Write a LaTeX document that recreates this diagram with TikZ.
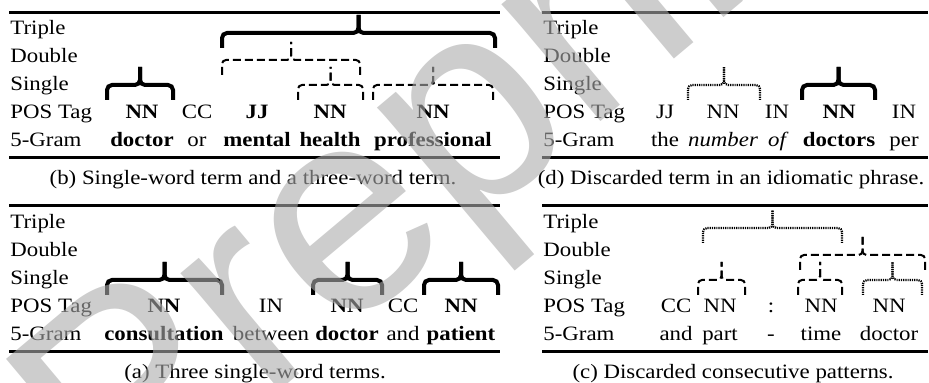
\documentclass[tikz,border=0pt]{standalone}
\usepackage{fontspec}
\setmainfont{Liberation Serif}[FakeStretch=1.12,
  BoldFeatures={FakeStretch=1.12},ItalicFeatures={FakeStretch=1.12}]
\newfontfamily\wmfont{Liberation Sans}

% one brace: style, left x, right x, foot y
\newcommand{\termbrace}[4]{%
  \draw[#1] (#2,#4) -- (#2,#4-15) -- ({(#2+#3)/2},#4-15) -- ({(#2+#3)/2},#4-33);
  \draw[#1] (#3,#4) -- (#3,#4-15) -- ({(#2+#3)/2},#4-15) -- ({(#2+#3)/2},#4-33);
}

\begin{document}
\begin{tikzpicture}[x=0.5pt,y=-0.5pt,
    every node/.style={inner sep=0pt,anchor=base,font=\fontsize{10.2}{12}\selectfont},
    rowlabel/.style={anchor=base west},
    tablerule/.style={line width=1.5pt},
    solidbrace/.style={line width=2pt,rounded corners=2.5pt},
    dashbrace/.style={line width=1pt,dash pattern=on 4pt off 2pt,rounded corners=2pt},
    dotbrace/.style={line width=1.1pt,dash pattern=on 0.6pt off 0.5pt,rounded corners=2pt},
    wmark/.style={anchor=base west,rotate=40,font=\wmfont\fontsize{145}{145}\selectfont,
      text=black!33,text opacity=0.6}]
  \useasboundingbox (0,0) rectangle (929,383);

  % Row labels
  \foreach \lab [count=\i] in {Triple,Double,Single,POS Tag,5-Gram} {
    \node[rowlabel] (b-row\i) at (10,7+28*\i) {\lab};
    \node[rowlabel] (d-row\i) at (543,7+28*\i) {\lab};
    \node[rowlabel] (a-row\i) at (10,201+28*\i) {\lab};
    \node[rowlabel] (c-row\i) at (543,201+28*\i) {\lab};
  }

  % Rules
  \draw[tablerule] (9,13) -- (500,13);
  \draw[tablerule] (9,158) -- (500,158);
  \draw[tablerule] (542,13) -- (928,13);
  \draw[tablerule] (542,158) -- (928,158);
  \draw[tablerule] (9,206) -- (500,206);
  \draw[tablerule] (9,352) -- (500,352);
  \draw[tablerule] (542,206) -- (928,206);
  \draw[tablerule] (542,352) -- (928,352);

  % (b) tags and words
  \node (b-t1) at (142,119) {\bfseries NN};
  \node (b-t2) at (197,119) {CC};
  \node (b-t3) at (257,119) {\bfseries JJ};
  \node (b-t4) at (330,119) {\bfseries NN};
  \node (b-t5) at (433,119) {\bfseries NN};
  \node (b-w1) at (142,147) {\bfseries doctor};
  \node (b-w2) at (197,147) {or};
  \node (b-w3) at (257,147) {\bfseries mental};
  \node (b-w4) at (330,147) {\bfseries health};
  \node (b-w5) at (433,147) {\bfseries professional};
  \termbrace{solidbrace}{107}{173}{100}
  \termbrace{dashbrace}{298}{363}{100}
  \termbrace{dashbrace}{373}{493}{100}
  \termbrace{dashbrace}{222}{360}{75}
  \termbrace{solidbrace}{222}{495}{48}
  \node (b-cap) at (253,185) {(b) Single-word term and a three-word term.};

  % (d) tags and words
  \node (d-t1) at (665,119) {JJ};
  \node (d-t2) at (723,119) {NN};
  \node (d-t3) at (777,119) {IN};
  \node (d-t4) at (839,119) {\bfseries NN};
  \node (d-t5) at (904,119) {IN};
  \node (d-w1) at (665,147) {the};
  \node (d-w2) at (723,147) {\itshape number};
  \node (d-w3) at (777,147) {\itshape of};
  \node (d-w4) at (839,147) {\bfseries doctors};
  \node (d-w5) at (904,147) {per};
  \termbrace{dotbrace}{688}{760}{100}
  \termbrace{solidbrace}{802}{875}{100}
  \node (d-cap) at (731,185) {(d) Discarded term in an idiomatic phrase.};

  % (a) tags and words
  \node (a-t1) at (164,313) {\bfseries NN};
  \node (a-t2) at (271,313) {IN};
  \node (a-t3) at (347,313) {\bfseries NN};
  \node (a-t4) at (403,313) {CC};
  \node (a-t5) at (461,313) {\bfseries NN};
  \node (a-w1) at (164,341) {\bfseries consultation};
  \node (a-w2) at (271,341) {between};
  \node (a-w3) at (347,341) {\bfseries doctor};
  \node (a-w4) at (403,341) {and};
  \node (a-w5) at (461,341) {\bfseries patient};
  \termbrace{solidbrace}{107}{222}{295}
  \termbrace{solidbrace}{313}{382}{295}
  \termbrace{solidbrace}{424}{498}{295}
  \node (a-cap) at (255,379) {(a) Three single-word terms.};

  % (c) tags and words
  \node (c-t1) at (676,313) {CC};
  \node (c-t2) at (720,313) {NN};
  \node (c-t3) at (771,313) {:};
  \node (c-t4) at (821,313) {NN};
  \node (c-t5) at (889,313) {NN};
  \node (c-w1) at (676,341) {and};
  \node (c-w2) at (720,341) {part};
  \node (c-w3) at (771,341) {-};
  \node (c-w4) at (821,341) {time};
  \node (c-w5) at (889,341) {doctor};
  \termbrace{dashbrace}{698}{745}{295}
  \termbrace{dashbrace}{798}{842}{295}
  \termbrace{dotbrace}{863}{922}{295}
  \termbrace{dashbrace}{800}{925}{270}
  \termbrace{dotbrace}{703}{842}{243}
  \node (c-cap) at (733,379) {(c) Discarded consecutive patterns.};

  % Watermark
  \node[wmark] (wm) at (116,528) {Preprint};
\end{tikzpicture}
\end{document}
